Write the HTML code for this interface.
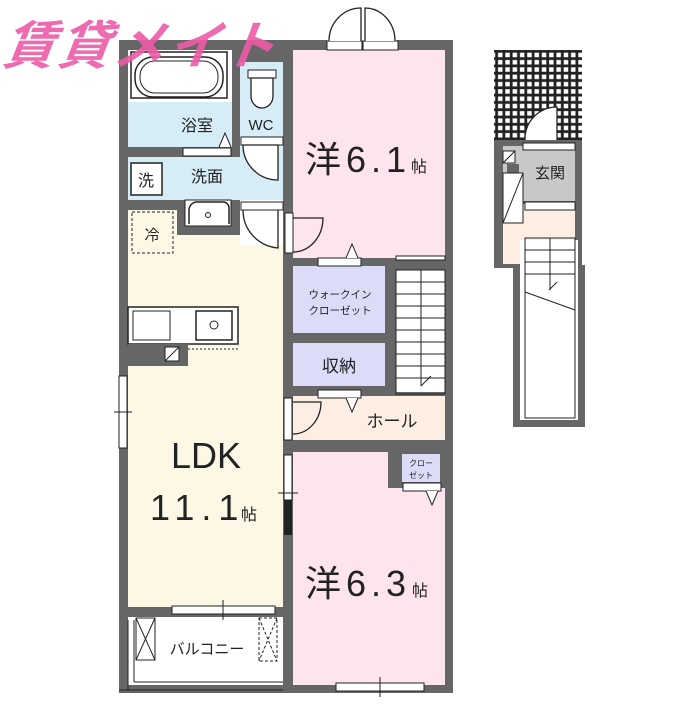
<!DOCTYPE html>
<html><head><meta charset="utf-8"><style>
body{margin:0;background:#fff;width:700px;height:700px;overflow:hidden}
text{font-family:"Liberation Sans","Noto Sans CJK JP",sans-serif;fill:#222}
</style></head><body>
<svg width="700" height="700" viewBox="0 0 700 700" xmlns="http://www.w3.org/2000/svg">
<defs>
<pattern id="tile" width="7.3" height="7.3" patternUnits="userSpaceOnUse">
<rect width="7.3" height="7.3" fill="#222"/><rect x="1.6" y="1.6" width="4.5" height="4.5" fill="#fff"/>
</pattern>
</defs>
<rect x="119" y="40" width="334" height="653" fill="#666"/>
<rect x="128" y="50" width="104" height="52" fill="#fff"/>
<rect x="128" y="102" width="104" height="45" fill="#d6ecf7"/>
<rect x="240" y="62" width="43" height="73" fill="#d6ecf7"/>
<rect x="240" y="135" width="43" height="65" fill="#d6ecf7"/>
<rect x="128" y="157" width="155" height="43" fill="#d6ecf7"/>
<rect x="128" y="210" width="49" height="40" fill="#fdf8e6"/>
<rect x="128" y="235" width="155" height="372" fill="#fdf8e6"/>
<rect x="240" y="200" width="43" height="45" fill="#fff"/>
<rect x="128" y="617" width="155" height="68" fill="#fff"/>
<rect x="293" y="50" width="152" height="208" fill="#fde4ee"/>
<rect x="293" y="266" width="92" height="67" fill="#dcdcf8"/>
<rect x="293" y="343" width="92" height="43" fill="#dcdcf8"/>
<rect x="396" y="270" width="49" height="122" fill="#fff"/>
<rect x="293" y="396" width="152" height="44" fill="#fdeee4"/>
<rect x="293" y="452" width="152" height="233" fill="#fde4ee"/>
<rect x="388" y="452" width="12" height="36" fill="#666"/>
<rect x="400" y="452" width="45" height="36" fill="#666"/>
<rect x="402" y="454" width="38" height="28" fill="#dcdcf8"/>
<rect x="131" y="52" width="96" height="46" fill="none" stroke="#222" stroke-width="1.5"/>
<rect x="135" y="57" width="88" height="40" rx="18" fill="none" stroke="#222" stroke-width="1.5"/>
<rect x="140" y="61" width="78" height="32" rx="15" fill="none" stroke="#222"/>
<rect x="248" y="70" width="28" height="8" fill="#fff" stroke="#222"/>
<path d="M251 78 h22 v18 a11 12 0 0 1 -22 0 z" fill="#fff" stroke="#222" stroke-width="1.3"/>
<rect x="183" y="148" width="48" height="8" fill="#fff" stroke="#222"/>
<path d="M219 147 l6 -14 l6 14" fill="#fff" stroke="#222"/>
<rect x="241" y="137" width="42" height="8" fill="#fff" stroke="#222"/>
<path d="M278 145 v35 a35 35 0 0 1 -35 -35 z" fill="#fff" stroke="#222" stroke-width="1.3"/>
<rect x="241" y="202" width="42" height="8" fill="#fff" stroke="#222"/>
<path d="M278 210 v38 a38 38 0 0 1 -35 -38" fill="none" stroke="#222" stroke-width="1.3"/>
<rect x="285" y="213" width="8" height="40" fill="#fff" stroke="#222"/>
<path d="M293 218 h30 a30 34 0 0 1 -30 34" fill="none" stroke="#222" stroke-width="1.3"/>
<rect x="131" y="163" width="31" height="32" fill="#fff" stroke="#222" stroke-width="1.5"/>
<text x="146" y="186" font-size="16" text-anchor="middle">洗</text>
<path d="M185 200 h46 v26 h-46 z" fill="#fff" stroke="#222"/>
<path d="M189 224 v-14 a8 8 0 0 1 8 -8 h26 a6 6 0 0 1 6 6 v16" fill="#fff" stroke="#222" stroke-width="1.5"/>
<circle cx="208" cy="215" r="2.5" fill="none" stroke="#222"/>
<rect x="132" y="212" width="41" height="41" fill="none" stroke="#222" stroke-dasharray="3,2"/>
<text x="152" y="240" font-size="15" text-anchor="middle">冷</text>
<rect x="128" y="307" width="110" height="37" fill="#fff" stroke="#222" stroke-width="1.5"/>
<rect x="133" y="311" width="37" height="29" fill="#fff" stroke="#222"/>
<rect x="196" y="311" width="36" height="29" fill="#fff" stroke="#222" stroke-width="1.5"/>
<circle cx="214" cy="325" r="4" fill="none" stroke="#222"/>
<rect x="128" y="344" width="60" height="22" fill="#666"/>
<rect x="165" y="347" width="14" height="14" fill="#fff" stroke="#222"/>
<line x1="165" y1="361" x2="179" y2="347" stroke="#222"/>
<line x1="188" y1="349" x2="240" y2="349" stroke="#222" stroke-dasharray="2,2"/>
<rect x="119" y="376" width="8" height="72" fill="#fff" stroke="#222"/>
<line x1="114" y1="412" x2="132" y2="412" stroke="#222"/>
<rect x="284" y="455" width="8" height="45" fill="#fff" stroke="#222"/>
<rect x="284" y="500" width="8" height="35" fill="#222"/>
<line x1="278" y1="493" x2="298" y2="493" stroke="#222"/>
<rect x="172" y="606" width="103" height="8" fill="#fff" stroke="#222"/>
<line x1="223" y1="600" x2="223" y2="620" stroke="#222"/>
<line x1="128" y1="620" x2="128" y2="690" stroke="#222"/>
<line x1="134" y1="620" x2="134" y2="682" stroke="#222"/>
<line x1="134" y1="682" x2="283" y2="682" stroke="#222"/>
<line x1="119" y1="690" x2="283" y2="690" stroke="#222"/>
<rect x="136" y="618" width="19" height="42" fill="none" stroke="#222"/>
<path d="M136 618 L155 660 M155 618 L136 660" stroke="#222"/>
<rect x="259" y="618" width="18" height="43" fill="none" stroke="#222" stroke-dasharray="3,2"/>
<path d="M259 618 L277 661 M277 618 L259 661" stroke="#222" stroke-dasharray="3,2"/>
<text x="207" y="654" font-size="15" text-anchor="middle">バルコニー</text>
<rect x="327" y="32" width="70" height="18" fill="#fff"/>
<rect x="327" y="41" width="35" height="9" fill="#fff" stroke="#222"/>
<rect x="363" y="41" width="35" height="9" fill="#fff" stroke="#222"/>
<path d="M329 41 a32 33 0 0 1 32 -33 v33" fill="#fff" stroke="#222" stroke-width="1.3"/>
<path d="M395 41 a30 33 0 0 0 -30 -33 v33" fill="#fff" stroke="#222" stroke-width="1.3"/>
<rect x="318" y="258" width="43" height="8" fill="#fff" stroke="#222"/>
<path d="M346 258 l6 -14 l6 14" fill="#fff" stroke="#222"/>
<rect x="396" y="256" width="49" height="4" fill="#fff" stroke="#222"/>
<g stroke="#222" fill="none">
<rect x="396" y="270" width="49" height="124"/>
<line x1="421" y1="270" x2="421" y2="386"/>
<path d="M396 282H445M396 294H445M396 306H445M396 318H445M396 330H445M396 342H445M396 354H445M396 366H445M396 378H445"/>
<path d="M421 386 l10 -10"/>
</g>
<rect x="318" y="390" width="43" height="8" fill="#fff" stroke="#222"/>
<path d="M346 398 l6 14 l6 -14" fill="#fff" stroke="#222"/>
<rect x="284" y="398" width="8" height="42" fill="#fff" stroke="#222"/>
<path d="M293 402 h28 a28 32 0 0 1 -28 32" fill="none" stroke="#222" stroke-width="1.3"/>
<rect x="403" y="483" width="38" height="8" fill="#fff" stroke="#222"/>
<path d="M426 491 l6 14 l6 -14" fill="#fff" stroke="#222"/>
<rect x="336" y="683" width="88" height="8" fill="#fff" stroke="#222"/>
<line x1="380" y1="677" x2="380" y2="697" stroke="#222"/>
<rect x="494" y="50" width="88" height="90" fill="url(#tile)"/>
<rect x="494" y="140" width="88" height="128" fill="#666"/>
<rect x="513" y="265" width="72" height="162" fill="#666"/>
<rect x="503" y="146" width="72" height="55" fill="#c8c8c8"/>
<rect x="503" y="204" width="72" height="60" fill="#fdeee4"/>
<rect x="520" y="240" width="58" height="180" fill="#fff"/>
<rect x="507" y="164" width="12" height="18" fill="#666"/>
<path d="M525 140 a32 32 0 0 1 32 -33 v33" fill="#fff" stroke="#222" stroke-width="1.3"/>
<rect x="523" y="143" width="52" height="7" fill="#fff" stroke="#222"/>
<rect x="503" y="151" width="12" height="12" fill="#fff" stroke="#222"/>
<line x1="503" y1="163" x2="515" y2="151" stroke="#222"/>
<rect x="503" y="173" width="20" height="50" fill="#fff" stroke="#222"/>
<line x1="503" y1="223" x2="523" y2="173" stroke="#222"/>
<rect x="525" y="202" width="50" height="8" fill="#fff" stroke="#222"/>
<g stroke="#222" fill="none">
<rect x="525" y="238" width="50" height="180"/>
<line x1="550" y1="238" x2="550" y2="290"/>
<path d="M525 250H575M525 262H575M525 274H575"/>
<path d="M525 292 L575 310"/>
<path d="M549 290 l8 -8"/>
</g>
<text x="550" y="178" font-size="15" text-anchor="middle">玄関</text>
<text x="197" y="131" font-size="16" text-anchor="middle">浴室</text>
<text x="261" y="130" font-size="15" text-anchor="middle">WC</text>
<text x="207" y="182" font-size="16" text-anchor="middle">洗面</text>
<text x="305" y="172" font-size="36" letter-spacing="5">洋6.1</text>
<text x="411" y="172" font-size="16">帖</text>
<text x="340" y="298" font-size="10.5" text-anchor="middle">ウォークイン</text>
<text x="340" y="314" font-size="10.5" text-anchor="middle">クローゼット</text>
<text x="339" y="372" font-size="17" text-anchor="middle">収納</text>
<text x="392" y="427" font-size="17" text-anchor="middle">ホール</text>
<text x="421" y="466" font-size="8" text-anchor="middle">クロー</text>
<text x="421" y="478" font-size="8" text-anchor="middle">ゼット</text>
<text x="206" y="468" font-size="36" text-anchor="middle">LDK</text>
<text x="150" y="520" font-size="36" letter-spacing="7">11.1</text>
<text x="241" y="520" font-size="16">帖</text>
<text x="305" y="596" font-size="36" letter-spacing="5">洋6.3</text>
<text x="412" y="596" font-size="16">帖</text>
<text x="10" y="64" font-size="52" font-weight="bold" font-style="italic" style="fill:#ec5ca6;opacity:.9" transform="skewX(-8)" textLength="272">賃貸メイト</text>
</svg>
</body></html>
